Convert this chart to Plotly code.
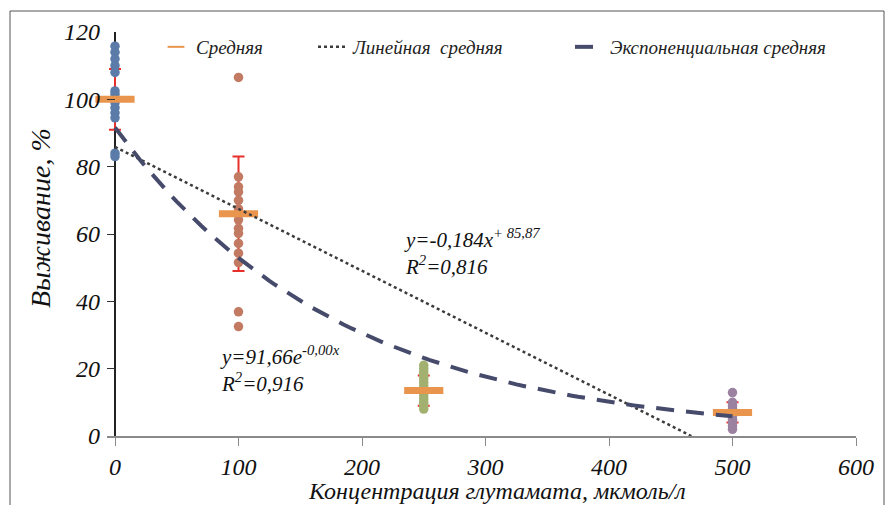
import numpy as np
import plotly.graph_objects as go

# ---- data ----
groups = [0, 100, 250, 500]
vals_0 = [115.8, 114, 112, 110, 108, 102.5, 101.5, 100, 99, 97.5, 96, 94.5, 84, 83]
vals_100 = [106.5, 77, 74, 72.5, 70, 67.5, 64.2, 61.7, 60.2, 57.2, 54.3, 51.5, 36.9, 32.5]
vals_250 = [21, 20, 19, 18, 17, 16, 15, 14, 13, 12, 11, 10, 9, 8]
vals_500 = [12.9, 10, 9, 8, 7, 6, 5, 4, 3, 2]
means = [100, 66, 13.5, 7]
errs = [9, 17, 4.5, 3]

lin_slope, lin_icpt = -0.184, 85.87
exp_a, exp_b = 91.66, -0.0055

x_tick_vals = [0, 100, 200, 300, 400, 500, 600]
x_tick_labels = ["0", "100", "200", "300", "400", "500", "600"]
y_tick_vals = [0, 20, 40, 60, 80, 100, 120]
y_tick_labels = ["0", "20", "40", "60", "80", "100", "120"]

point_colors = ["#5b7ca8", "#c27a62", "#a2b070", "#9b82a0"]
serif = "Liberation Serif"

# ---- geometry (pixels) ----
L, R, T, B = 107, 856, 32, 436
pw, ph = R - L, B - T
xpad = 8 * 600 / (pw - 8)  # y-axis line (x=0) sits 8px right of plot edge

fig = go.Figure()

# error bars (under points)
fig.add_trace(go.Scatter(
    x=groups, y=means, mode="markers", marker=dict(size=1, opacity=0),
    error_y=dict(type="data", array=errs, color="#e8302a", thickness=2, width=6),
    showlegend=False, hoverinfo="skip"))

# raw points
for gx, vals, col in zip(groups, [vals_0, vals_100, vals_250, vals_500], point_colors):
    fig.add_trace(go.Scatter(
        x=[gx] * len(vals), y=vals, mode="markers",
        marker=dict(size=9.5, color=col), showlegend=False, cliponaxis=False))

# mean markers
fig.add_trace(go.Scatter(
    x=groups, y=means, mode="markers", name="Средняя", legend="legend",
    marker=dict(symbol="line-ew", size=28, line=dict(width=7, color="#ea954e"), color="#ea954e"),
    cliponaxis=False))

# linear trend
x_lin_end = -lin_icpt / lin_slope
x_lin = [0, x_lin_end]
y_lin = [lin_icpt + lin_slope * v for v in x_lin]
fig.add_trace(go.Scatter(
    x=x_lin, y=y_lin, mode="lines", name="Линейная  средняя", legend="legend2",
    line=dict(color="#3c3c3c", width=2.5, dash="dot")))

# exponential trend
x_exp = np.linspace(0, 500, 101)
y_exp = exp_a * np.exp(exp_b * x_exp)
fig.add_trace(go.Scatter(
    x=x_exp, y=y_exp, mode="lines", name="Экспоненциальная средняя", legend="legend3",
    line=dict(color="#474b6b", width=4, dash="18px,12px")))

ann_font = dict(family=serif, size=21, color="#111")
annotations = [
    dict(x=232.5, y=54.6, text="<i>y=-0,184x<sup>+ 85,87</sup><br>R<sup>2</sup>=0,816</i>"),
    dict(x=83, y=19.8, text="<i>y=91,66e<sup>-0,00x</sup><br>R<sup>2</sup>=0,916</i>"),
]
for a in annotations:
    a.update(xref="x", yref="y", xanchor="left", yanchor="middle", align="left",
             showarrow=False, font=ann_font)

def px(xp):
    return (xp - L) / pw

def py(yp):
    return (B - yp) / ph

title_font = dict(family=serif, size=24, style="italic", color="#111")
annotations += [
    dict(xref="paper", yref="paper", x=px(497), y=py(491), xanchor="center", yanchor="middle",
         text="Концентрация глутамата, мкмоль/л", showarrow=False, font=title_font),
    dict(xref="paper", yref="paper", x=px(40), y=py(218), xanchor="center", yanchor="middle",
         text="Выживание, %", textangle=-90, showarrow=False,
         font=dict(family=serif, size=28, style="italic", color="#111")),
]

fx0, fx1 = px(10), px(884)
fy1, fy0 = py(11), py(520)

leg_font = dict(family=serif, size=19, color="#222", style="italic")
def leg(xpix, sizing="trace"):
    return dict(orientation="h", x=px(xpix), y=py(47), xanchor="left", yanchor="middle",
                font=leg_font, bgcolor="rgba(0,0,0,0)", itemwidth=30, itemsizing=sizing)

tick_font = dict(family=serif, size=24, style="italic", color="#111")

fig.update_layout(
    width=888, height=505,
    margin=dict(l=L, r=888 - R, t=T, b=505 - B),
    paper_bgcolor="white", plot_bgcolor="white",
    font=dict(family=serif, color="#111"),
    annotations=annotations,
    shapes=[dict(type="path", xref="paper", yref="paper",
                 path=f"M {fx0},{fy0} L {fx0},{fy1} L {fx1},{fy1} L {fx1},{fy0}",
                 line=dict(color="#555", width=1))],
    legend=leg(156, "constant"), legend2=leg(313), legend3=leg(570),
    xaxis=dict(range=[-xpad, 600], tickvals=x_tick_vals,
               ticktext=[f"<i>{t}</i>" for t in x_tick_labels], showgrid=False,
               zeroline=True, zerolinecolor="#222", zerolinewidth=1.5,
               showline=True, linecolor="#8a8a8a", linewidth=1.5,
               ticks="outside", ticklen=8, tickcolor="#8a8a8a", tickwidth=1.2,
               tickfont=tick_font),
    yaxis=dict(range=[0, 120], tickvals=y_tick_vals,
               ticktext=[f"<i>{t}</i>" for t in y_tick_labels],
               showgrid=False, zeroline=False, showline=False,
               ticks="inside", ticklen=8, tickcolor="#333", tickwidth=1.2,
               ticklabelstandoff=6, tickfont=tick_font),
)

fig.write_html("out.html", config={"displayModeBar": False},
               post_script="document.body.style.margin='0';")
